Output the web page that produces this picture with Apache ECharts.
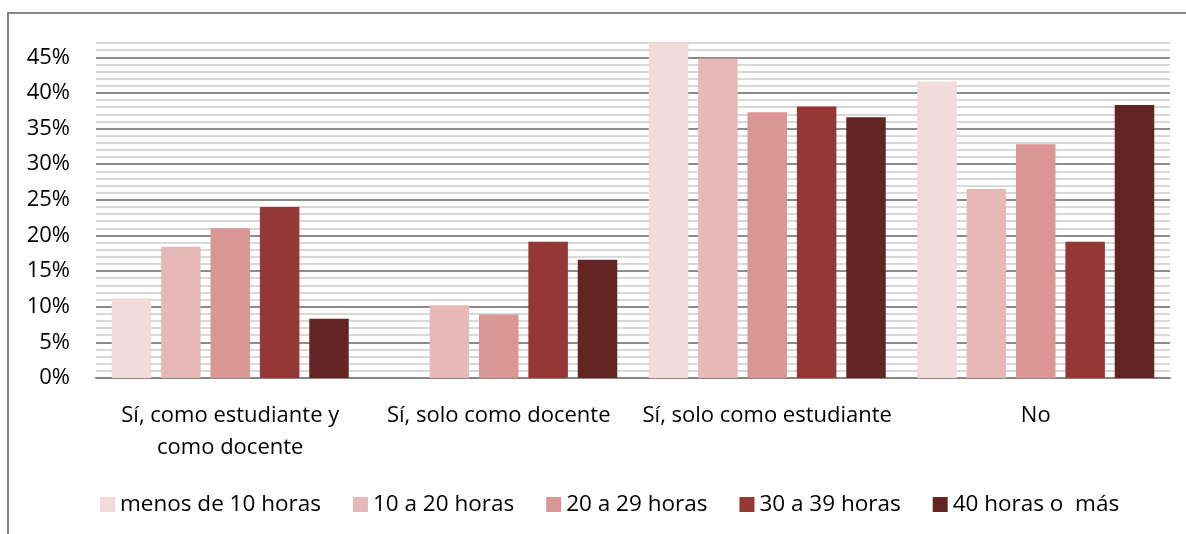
<!DOCTYPE html>
<html>
<head>
<meta charset="utf-8">
<script src="https://cdn.jsdelivr.net/npm/echarts@6/dist/echarts.min.js"></script>
<style>
  html, body { margin: 0; padding: 0; background: #fff; }
  #chart { width: 1186px; height: 534px; }
</style>
</head>
<body>
<div id="chart"></div>
<script>
// categorias del eje x
const categories = [
  'Sí, como estudiante y\ncomo docente',
  'Sí, solo como docente',
  'Sí, solo como estudiante',
  'No'
];
const seriesNames = ['menos de 10 horas', '10 a 20 horas', '20 a 29 horas', '30 a 39 horas', '40 horas o  más'];
const seriesColors = ['#F2DCDB', '#E6B9B8', '#D99694', '#953735', '#632523'];

// valores (%)
const menos10 = [11.2, 0, 47.0, 41.6];
const de10a20 = [18.4, 10.2, 44.8, 26.5];
const de20a29 = [21.0, 8.9, 37.3, 32.8];
const de30a39 = [24.0, 19.1, 38.1, 19.1];
const mas40 = [8.3, 16.6, 36.6, 38.3];
const seriesData = [menos10, de10a20, de20a29, de30a39, mas40];

const font = 'Open Sans';
const chart = echarts.init(document.getElementById('chart'));

chart.setOption({
  animation: false,
  textStyle: { fontFamily: font },
  graphic: [{
    type: 'rect',
    shape: { x: 8, y: 13, width: 1400, height: 800 },
    style: { fill: 'none', stroke: '#868686', lineWidth: 2 },
    silent: true
  }],
  grid: { left: 96, right: 16, top: 43, bottom: 156 },
  legend: {
    left: 95,
    top: 488,
    itemWidth: 15,
    itemHeight: 15,
    itemGap: 32,
    icon: 'rect',
    textStyle: { fontFamily: font, fontSize: 22.5, color: '#000' },
    data: seriesNames
  },
  xAxis: {
    type: 'category',
    data: categories,
    axisLine: { show: true, lineStyle: { color: '#868686', width: 2 } },
    axisTick: { show: false },
    axisLabel: {
      interval: 0,
      margin: 22,
      fontFamily: font,
      fontSize: 22,
      lineHeight: 32,
      color: '#000'
    }
  },
  yAxis: {
    type: 'value',
    min: 0,
    max: 47,
    interval: 1,
    axisLine: { show: false },
    axisTick: { show: false },
    axisLabel: {
      margin: 26,
      fontFamily: font,
      fontSize: 22,
      color: '#000',
      formatter: v => (v % 5 === 0 ? v + '%' : '')
    },
    splitLine: {
      lineStyle: {
        color: ['#8c8c8c', '#d9d9d9', '#d9d9d9', '#d9d9d9', '#d9d9d9'],
        width: 2
      }
    }
  },
  series: seriesNames.map((name, i) => ({
    name: name,
    type: 'bar',
    data: seriesData[i],
    barWidth: 39.5,
    barGap: '25%',
    itemStyle: { color: seriesColors[i] }
  }))
});
</script>
</body>
</html>
